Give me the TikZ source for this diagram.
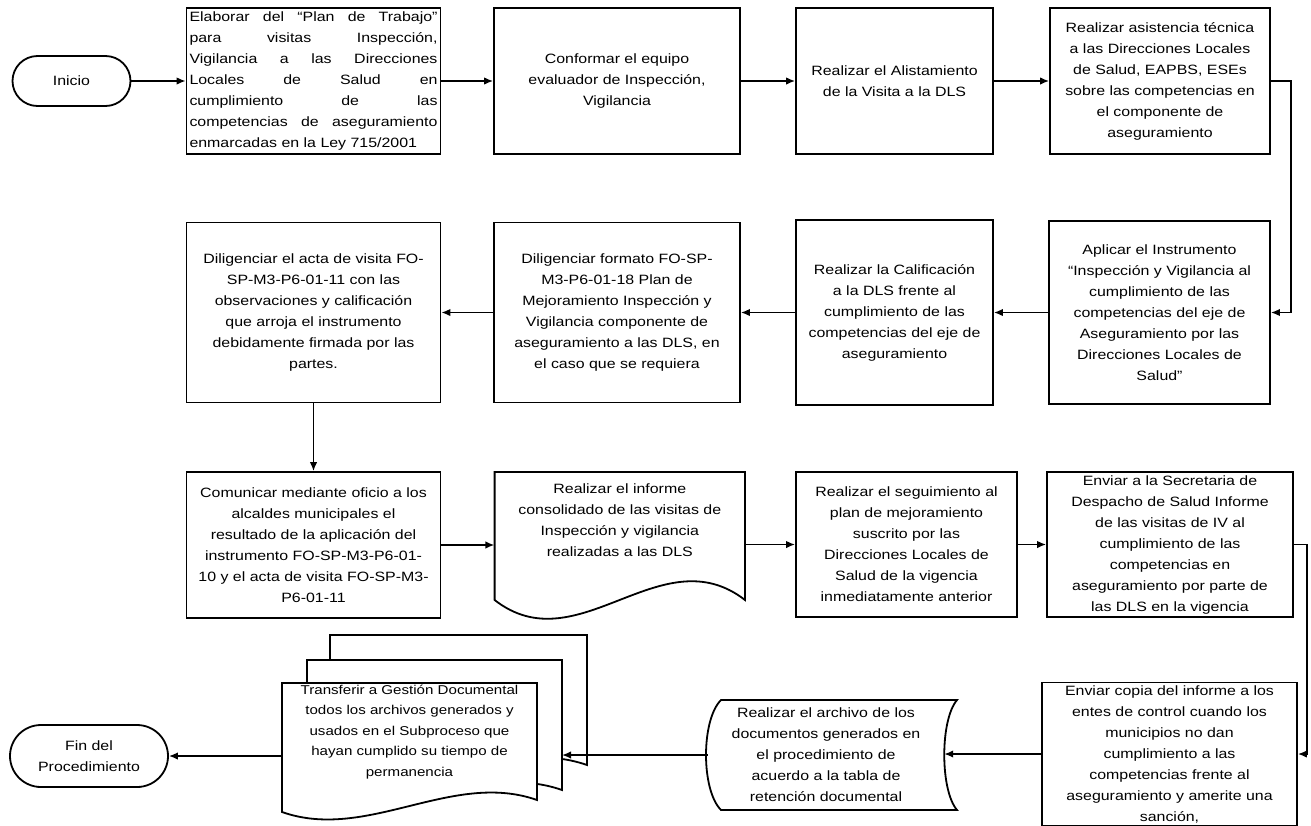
\documentclass[tikz,border=0pt]{standalone}
\usepackage{fontspec}
\setmainfont{Liberation Sans}[FakeStretch=1.18]
\usetikzlibrary{arrows.meta,shapes.misc}

\begin{document}
\begin{tikzpicture}[x=1pt,y=-1pt,
	caja/.style={draw,line width=1.8pt,inner sep=2pt,align=center,font=\fontsize{13.5}{21}\selectfont},
	texto/.style={inner sep=2pt,align=center,font=\fontsize{13.5}{21}\selectfont},
	terminal/.style={draw,rounded rectangle,line width=1.8pt,inner sep=2pt,align=center,font=\fontsize{13.5}{21}\selectfont},
	hoja/.style={draw,line width=1.8pt,fill=white},
	flecha/.style={line width=1.6pt,-{Latex[length=9pt,width=7.5pt]}}]
	
	\useasboundingbox (0,0) rectangle (1311,825);
	
	\node [terminal,minimum width=122pt,minimum height=50pt] (inicio) at (71.5,81) {Inicio};
	\node [caja,minimum width=254pt,minimum height=146pt,text width=248pt,align=justify] (elab) at (313.5,81)
	{Elaborar del “Plan de Trabajo”\linebreak para visitas Inspección,\linebreak Vigilancia a las Direcciones\linebreak Locales de Salud en\linebreak cumplimiento de las\linebreak competencias de aseguramiento\linebreak enmarcadas en la Ley 715/2001};
	\node [caja,minimum width=246pt,minimum height=146pt] (conf) at (617,81) {Conformar el equipo\\evaluador de Inspección,\\Vigilancia};
	\node [caja,minimum width=197pt,minimum height=146pt] (alist) at (894.5,81) {Realizar el Alistamiento\\de la Visita a la DLS};
	\node [caja,minimum width=220pt,minimum height=146pt] (asist) at (1160,81) {Realizar asistencia técnica\\a las Direcciones Locales\\de Salud, EAPBS, ESEs\\sobre las competencias en\\el componente de\\aseguramiento};
	
	\node [caja,minimum width=221pt,minimum height=183pt] (aplic) at (1159.5,312.5) {Aplicar el Instrumento\\“Inspección y Vigilancia al\\cumplimiento de las\\competencias del eje de\\Aseguramiento por las\\Direcciones Locales de\\Salud”};
	\node [caja,minimum width=197pt,minimum height=185pt] (calif) at (894.5,312.5) {Realizar la Calificación\\a la DLS frente al\\cumplimiento de las\\competencias del eje de\\aseguramiento};
	\node [caja,minimum width=246pt,minimum height=180pt] (formato) at (617,312.5) {Diligenciar formato FO-SP-\\M3-P6-01-18 Plan de\\Mejoramiento Inspección y\\Vigilancia componente de\\aseguramiento a las DLS, en\\el caso que se requiera};
	\node [caja,minimum width=254pt,minimum height=180pt] (acta) at (313.5,312.5) {Diligenciar el acta de visita FO-\\SP-M3-P6-01-11 con las\\observaciones y calificación\\que arroja el instrumento\\debidamente firmada por las\\partes.};
	
	\node [caja,minimum width=254pt,minimum height=146pt] (comun) at (313.5,545) {Comunicar mediante oficio a los\\alcaldes municipales el\\resultado de la aplicación del\\instrumento FO-SP-M3-P6-01-\\10 y el acta de visita FO-SP-M3-\\P6-01-11};
	\draw [hoja] (494.6,472) -- (745,472) -- (745,600) .. controls (661,535) and (578,665) .. (494.6,600) -- cycle;
	\node [texto,minimum width=250.4pt,minimum height=96pt] (informe) at (619.8,520) {Realizar el informe\\consolidado de las visitas de\\Inspección y vigilancia\\realizadas a las DLS};
	\node [caja,minimum width=221pt,minimum height=145pt] (segui) at (906.5,544.5) {Realizar el seguimiento al\\plan de mejoramiento\\suscrito por las\\Direcciones Locales de\\Salud de la vigencia\\inmediatamente anterior};
	\node [caja,minimum width=246pt,minimum height=145pt] (envsec) at (1170,544.5) {Enviar a la Secretaria de\\Despacho de Salud Informe\\de las visitas de IV al\\cumplimiento de las\\competencias en\\aseguramiento por parte de\\las DLS en la vigencia};
	
	\node [caja,minimum width=255pt,minimum height=143pt] (envcop) at (1169.5,754) {Enviar copia del informe a los\\entes de control cuando los\\municipios no dan\\cumplimiento a las\\competencias frente al\\aseguramiento y amerite una\\sanción,};
	\draw [line width=1.8pt] (721,700) -- (957,700) .. controls (940,720) and (940,790) .. (957,810) -- (721,810) .. controls (701,790) and (701,720) .. (721,700) -- cycle;
	\node [texto,minimum width=236pt,minimum height=110pt] (archivo) at (826,755) {Realizar el archivo de los\\documentos generados en\\el procedimiento de\\acuerdo a la tabla de\\retención documental};
	\draw [hoja] (330,635) -- (587,635) -- (587,765) .. controls (501,735) and (416,807) .. (330,777) -- cycle;
	\draw [hoja] (307,660) -- (562,660) -- (562,790) .. controls (477,760) and (392,832) .. (307,802) -- cycle;
	\draw [hoja] (282,683) -- (537,683) -- (537,800) .. controls (452,770) and (367,842) .. (282,812) -- cycle;
	\coordinate (pag2) at (562,755);
	\node [texto,minimum width=255pt,font=\fontsize{12.8}{20.5}\selectfont] (transf) at (409.5,732) {Transferir a Gestión Documental\\todos los archivos generados y\\usados en el Subproceso que\\hayan cumplido su tiempo de\\permanencia};
	\node [terminal,minimum width=162pt,minimum height=62pt] (fin) at (89,756) {Fin del\\Procedimiento};
	
	\draw [flecha] (inicio.east) -- (elab.west);
	\draw [flecha] (elab.east) -- (conf.west);
	\draw [flecha] (conf.east) -- (alist.west);
	\draw [flecha] (alist.east) -- (asist.west);
	\draw [flecha] (asist.east) -- ++(20,0) |- (aplic.east);
	\draw [flecha] (aplic.west) -- (calif.east);
	\draw [flecha] (calif.west) -- (formato.east);
	\draw [flecha] (formato.west) -- (acta.east);
	\draw [flecha] (acta.south) -- (comun.north);
	\draw [flecha] (comun.east) -- (comun.east -| informe.west);
	\draw [flecha] (segui.west -| informe.east) -- (segui.west);
	\draw [flecha] (segui.east) -- (envsec.west);
	\draw [flecha] (envsec.east) -- ++(13,0) |- (envcop.east);
	\draw [flecha] (envcop.west) -- (envcop.west -| archivo.east);
	\draw [flecha] (archivo.west) -- (pag2);
	\draw [flecha] (fin.east -| transf.west) -- (fin.east);
\end{tikzpicture}
\end{document}
